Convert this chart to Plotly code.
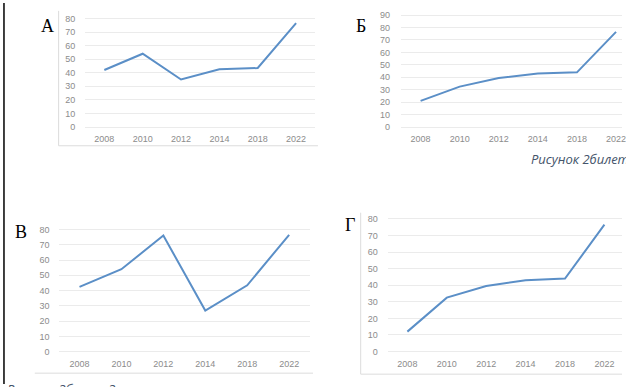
import plotly.graph_objects as go

years = ["2008", "2010", "2012", "2014", "2018", "2022"]
a_vals = [42, 54, 35, 42.5, 43.5, 76.5]
b_vals = [21, 32.5, 39.5, 43, 44, 76.5]
v_vals = [42.5, 54, 76, 27, 43.5, 76.5]
g_vals = [12, 32.5, 39.5, 43, 44, 76.5]
panel_letters = ["А", "Б", "В", "Г"]
caption_top = "Рисунок 2билет"
caption_bottom = "Рисунок 2билет 3"

W, H = 626, 387
LINE = "#5b8fc7"
GRID = "#ebebeb"
TICK = "#8c8c8c"

def px_x(x):
    return x / W

def px_y(y):
    return 1 - y / H

# panel geometry in pixels: (first center, spacing, y of 0, y of top, top value)
panels = [
    dict(vals=a_vals, c0=105, sp=38.6, y0=126, yt=15.7, top=80, ys=9),
    dict(vals=b_vals, c0=423.3, sp=39.34, y0=126, yt=12.3, top=90, ys=10),
    dict(vals=v_vals, c0=80, sp=42.2, y0=354.3, yt=230, top=80, ys=8),
    dict(vals=g_vals, c0=410, sp=39.66, y0=354, yt=219.3, top=80, ys=9),
]

fig = go.Figure()
layout = dict(width=W, height=H, margin=dict(l=0, r=0, t=0, b=0),
              paper_bgcolor="white", plot_bgcolor="white", showlegend=False)

pad = 1.5
for i, p in enumerate(panels):
    k = "" if i == 0 else str(i + 1)
    left = p["c0"] - p["sp"] / 2
    right = left + 6 * p["sp"]
    xmax = 5.5
    if right > W:
        xmax = (W - left) / p["sp"] - 0.5
        right = W
    scale = (p["y0"] - p["yt"]) / p["top"]
    ybot = p["y0"] + pad * scale
    ytop = p["yt"] - pad * scale
    layout["xaxis" + k] = dict(
        domain=[px_x(left), px_x(right)], anchor="y" + k, type="category",
        categoryorder="array", categoryarray=years, range=[-0.5, xmax],
        showgrid=False, zeroline=False, showline=False, ticks="",
        ticklabelstandoff=3,
        tickfont=dict(family="Liberation Sans", size=9, color=TICK),
    )
    layout["yaxis" + k] = dict(
        domain=[px_y(ybot), px_y(ytop)], anchor="x" + k,
        range=[-pad, p["top"] + pad], dtick=10, tick0=0,
        showgrid=True, gridcolor=GRID, gridwidth=1, zeroline=False,
        showline=False, ticks="", ticklabelstandoff=p["ys"],
        tickfont=dict(family="Liberation Sans", size=9, color=TICK),
    )
    fig.add_trace(go.Scatter(x=years, y=p["vals"], mode="lines",
                             line=dict(color=LINE, width=2),
                             xaxis="x" + k, yaxis="y" + k,
                             hoverinfo="skip"))

annotations = []
letter_pos = [(48, 23), (363, 23), (21, 233), (352, 225)]
for letter, (lx, ly) in zip(panel_letters, letter_pos):
    annotations.append(dict(x=px_x(lx), y=px_y(ly), xref="paper", yref="paper",
                            text=letter, showarrow=False,
                            xanchor="center", yanchor="middle",
                            font=dict(family="Liberation Serif", size=18, color="black")))
annotations.append(dict(x=px_x(532), y=px_y(158), xref="paper", yref="paper",
                        text="<i>" + caption_top + "</i>", showarrow=False,
                        xanchor="left", yanchor="middle",
                        font=dict(family="Open Sans", size=13, color="#44546a")))
annotations.append(dict(x=px_x(5), y=px_y(381), xref="paper", yref="paper",
                        text="<i>" + caption_bottom + "</i>", showarrow=False,
                        xanchor="left", yanchor="top",
                        font=dict(family="Open Sans", size=13, color="#44546a")))
layout["annotations"] = annotations

FRAME = "#dcdcdc"
shapes = [
    # page edge line on the left
    dict(type="line", xref="paper", yref="paper", x0=px_x(4), x1=px_x(4),
         y0=0, y1=1, line=dict(color="black", width=1.5)),
    # chart frames
    dict(type="line", xref="paper", yref="paper", x0=px_x(59), x1=px_x(59),
         y0=px_y(145), y1=px_y(8), line=dict(color=FRAME, width=1)),
    dict(type="line", xref="paper", yref="paper", x0=px_x(59), x1=px_x(320),
         y0=px_y(145), y1=px_y(145), line=dict(color=FRAME, width=1)),
    dict(type="line", xref="paper", yref="paper", x0=px_x(35), x1=px_x(315),
         y0=px_y(376), y1=px_y(376), line=dict(color=FRAME, width=1)),
    dict(type="line", xref="paper", yref="paper", x0=px_x(363), x1=px_x(363),
         y0=px_y(377), y1=px_y(213), line=dict(color=FRAME, width=1)),
    dict(type="line", xref="paper", yref="paper", x0=px_x(363), x1=1,
         y0=px_y(377), y1=px_y(377), line=dict(color=FRAME, width=1)),
]
layout["shapes"] = shapes

fig.update_layout(**layout)
fig.write_html(
    "out.html",
    config={"displayModeBar": False},
    post_script=(
        "document.documentElement.style.margin='0';"
        "document.documentElement.style.overflow='hidden';"
        "document.body.style.margin='0';"
        "document.body.style.overflow='hidden';"
        "var gd=document.getElementById('{plot_id}');"
        "gd.style.position='fixed';gd.style.left='0px';gd.style.top='0px';"
    ),
)
